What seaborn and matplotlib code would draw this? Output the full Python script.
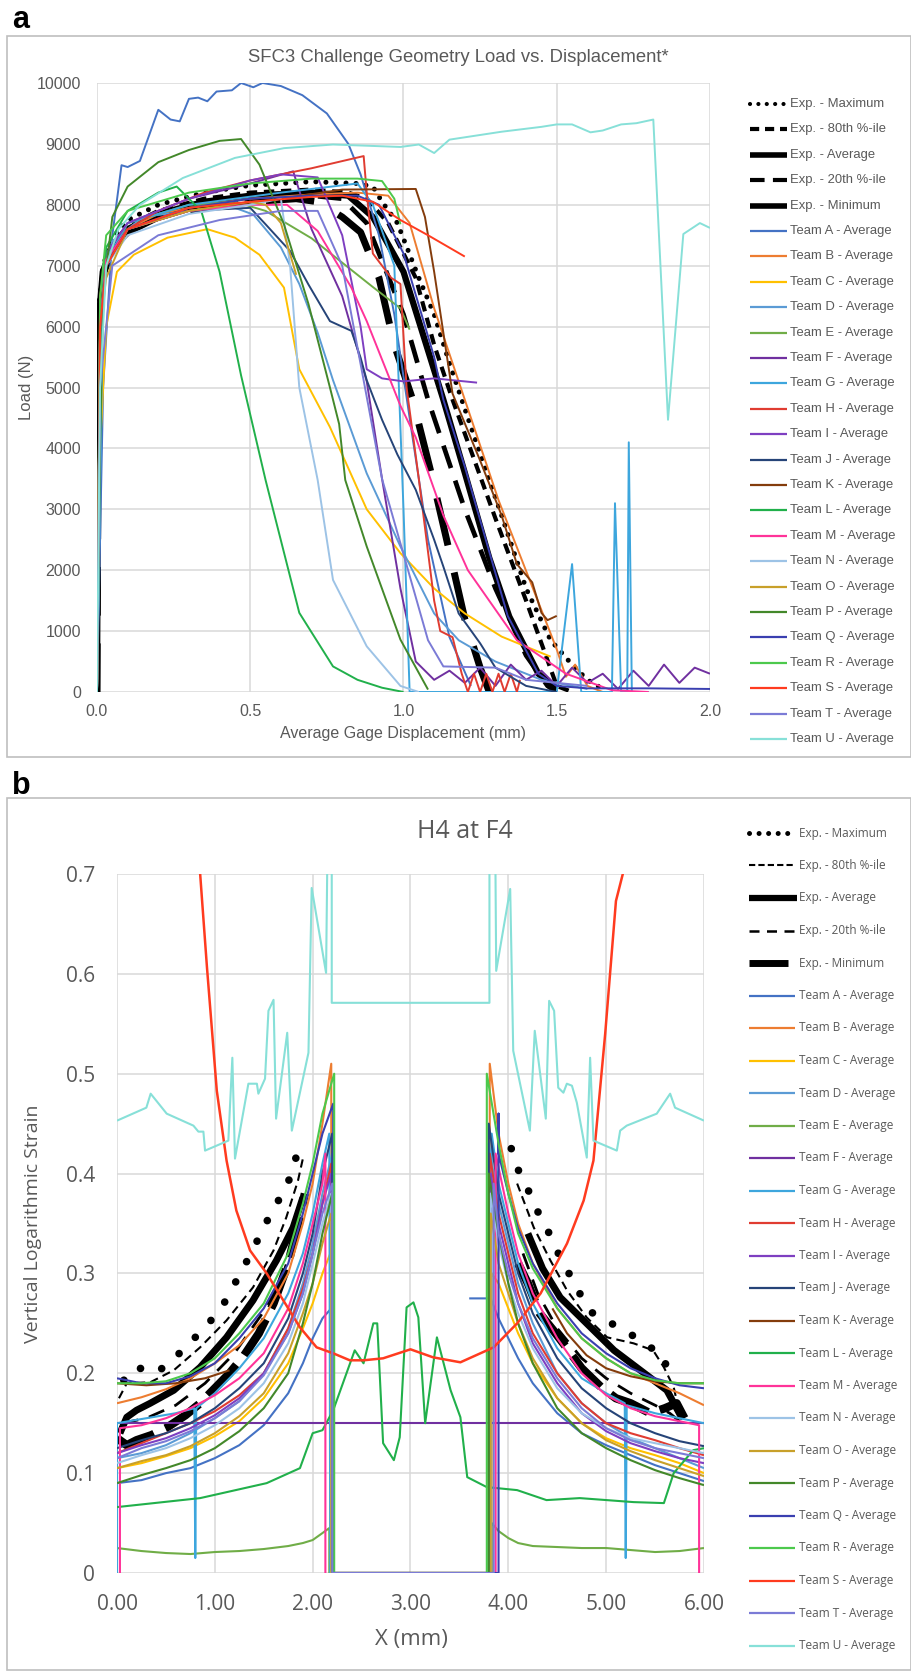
import matplotlib
matplotlib.use("Agg")
import matplotlib.pyplot as plt
from matplotlib.lines import Line2D
from matplotlib.patches import Rectangle
import seaborn as sns

W, H = 912, 1671
sns.set_theme(style="whitegrid")
NARROW = ['Liberation Sans', 'DejaVu Sans']
OPEN = ['Open Sans', 'DejaVu Sans']
plt.rcParams['font.family'] = NARROW
GRAY = '#595959'

# ---------------- labels / colours ----------------
EXP_LABELS = ["Exp. - Maximum", "Exp. - 80th %-ile", "Exp. - Average", "Exp. - 20th %-ile", "Exp. - Minimum"]
TEAMS = list("ABCDEFGHIJKLMNOPQRSTU")
TEAM_LABELS = [f"Team {t} - Average" for t in TEAMS]
TEAM_COLORS = ['#4472C4', '#ED7D31', '#FFC000', '#5B9BD5', '#70AD47', '#7030A0', '#3DA6DD',
               '#E03C31', '#7E3FC1', '#264478', '#843C0C', '#21B04B', '#FF3399', '#9DC3E6',
               '#C8A02A', '#43882A', '#3A3FB0', '#4CC94C', '#FF3B1F', '#7B7BD6', '#87E0D8']

# ---------------- panel a : load vs displacement ----------------
A_XTICKS = [0.0, 0.5, 1.0, 1.5, 2.0]
A_YTICKS = [0, 1000, 2000, 3000, 4000, 5000, 6000, 7000, 8000, 9000, 10000]

aMax_x = [0, 0.005, 0.02, 0.05, 0.1, 0.2, 0.35, 0.5, 0.7, 0.85, 0.9, 0.93, 0.98, 1.05, 1.1, 1.15, 1.21, 1.32, 1.4, 1.48, 1.55, 1.6, 1.65]
aMax_y = [0, 6300, 7000, 7450, 7750, 8000, 8200, 8320, 8380, 8350, 8300, 8050, 7700, 6800, 6200, 5400, 4500, 2900, 1700, 850, 450, 200, 50]
a80_x = [0, 0.005, 0.02, 0.05, 0.1, 0.2, 0.35, 0.5, 0.7, 0.82, 0.88, 0.95, 1.04, 1.1, 1.16, 1.3, 1.4, 1.45, 1.5, 1.55]
a80_y = [0, 6100, 6900, 7350, 7650, 7900, 8100, 8200, 8250, 8200, 8100, 7700, 6800, 5700, 4800, 2850, 1500, 800, 100, 0]
aAvg_x = [0, 0.005, 0.02, 0.05, 0.1, 0.2, 0.35, 0.5, 0.7, 0.82, 0.9, 1.0, 1.13, 1.2, 1.28, 1.345, 1.44, 1.5]
aAvg_y = [0, 6000, 6850, 7300, 7600, 7850, 8050, 8150, 8200, 8150, 7800, 6900, 4800, 3600, 2200, 1240, 300, 50]
a20_x = [0, 0.005, 0.02, 0.05, 0.1, 0.2, 0.35, 0.5, 0.7, 0.8, 0.88, 1.0, 1.08, 1.2, 1.3, 1.4, 1.47, 1.5]
a20_y = [0, 5900, 6800, 7250, 7550, 7800, 8000, 8100, 8150, 8100, 7700, 6200, 4800, 3000, 1700, 600, 100, 0]
aMin_x = [0, 0.005, 0.02, 0.05, 0.1, 0.2, 0.35, 0.5, 0.65, 0.72, 0.8, 0.86, 0.92, 0.97, 1.03, 1.09, 1.15, 1.2, 1.25, 1.28]
aMin_y = [0, 6000, 6900, 7300, 7550, 7800, 7950, 8050, 8100, 8050, 7800, 7550, 6800, 5700, 4800, 3600, 2300, 1200, 400, 0]

aA_x = [0, 0.02, 0.05, 0.08, 0.1, 0.14, 0.2, 0.24, 0.27, 0.3, 0.33, 0.36, 0.39, 0.44, 0.47, 0.51, 0.54, 0.6, 0.67, 0.75, 0.82, 0.86, 0.92, 0.97, 1.02, 1.08, 1.15, 1.22]
aA_y = [0, 5000, 7500, 8650, 8620, 8720, 9560, 9400, 9370, 9740, 9760, 9700, 9860, 9880, 10000, 9930, 10000, 9950, 9800, 9500, 9000, 8500, 7500, 6200, 4500, 2500, 900, 100]
aB_x = [0, 0.01, 0.03, 0.1, 0.2, 0.35, 0.5, 0.7, 0.85, 0.95, 1.02, 1.1, 1.2, 1.31, 1.42, 1.48, 1.5, 1.53, 1.56, 1.6, 1.65]
aB_y = [0, 6500, 7100, 7600, 7850, 8000, 8100, 8170, 8200, 8150, 7700, 6300, 4800, 3150, 1730, 960, 700, 250, 450, 100, 0]
aC_x = [0, 0.01, 0.03, 0.065, 0.12, 0.23, 0.36, 0.45, 0.53, 0.61, 0.66, 0.76, 0.88, 0.99, 1.1, 1.2, 1.32, 1.48]
aC_y = [0, 4000, 6000, 6900, 7180, 7460, 7600, 7460, 7180, 6640, 5300, 4350, 3000, 2280, 1700, 1290, 910, 580]
aD_x = [0, 0.02, 0.05, 0.15, 0.3, 0.45, 0.51, 0.6, 0.66, 0.72, 0.77, 0.88, 0.99, 1.1, 1.18, 1.3, 1.45, 1.6]
aD_y = [0, 6800, 7400, 7800, 7900, 7950, 7840, 7300, 6700, 5900, 5120, 3590, 2390, 1290, 850, 500, 200, 50]
aE_x = [0, 0.01, 0.03, 0.1, 0.3, 0.45, 0.55, 0.7, 0.8, 0.9, 0.99, 1.02]
aE_y = [0, 5500, 7000, 7700, 8000, 8050, 7900, 7450, 7050, 6650, 6300, 5950]
aF_x = [0, 0.01, 0.03, 0.1, 0.3, 0.5, 0.64, 0.7, 0.8, 0.88, 0.93, 0.99, 1.04, 1.1, 1.15, 1.2, 1.25, 1.3, 1.35, 1.4, 1.45, 1.5, 1.55, 1.6, 1.65, 1.7, 1.75, 1.8, 1.85, 1.9, 1.95, 2.0]
aF_y = [0, 6000, 7200, 7700, 8100, 8350, 8550, 7600, 6500, 5100, 3500, 1700, 500, 200, 350, 150, 400, 100, 450, 200, 350, 100, 400, 150, 300, 50, 350, 100, 450, 150, 400, 300]
aG_x = [0, 0.02, 0.1, 0.3, 0.6, 0.85, 0.9, 0.97, 1.0, 1.02, 1.2, 1.5, 1.55, 1.58, 1.68, 1.69, 1.71, 1.73, 1.735, 1.745, 1.8]
aG_y = [0, 7000, 7700, 8000, 8200, 8350, 8000, 7000, 3000, 0, 0, 0, 2100, 0, 0, 3100, 0, 0, 4100, 0, 0]
aH_x = [0, 0.01, 0.03, 0.1, 0.2, 0.35, 0.5, 0.7, 0.87, 0.88, 0.9, 0.96, 0.99, 1.01, 1.05, 1.1, 1.12, 1.16, 1.19, 1.21, 1.23, 1.25, 1.27, 1.29, 1.31, 1.33, 1.35, 1.37, 1.38]
aH_y = [0, 6000, 7000, 7600, 7900, 8200, 8400, 8600, 8800, 8200, 7200, 6800, 6700, 5000, 3500, 1500, 1000, 900, 300, 0, 300, 0, 300, 0, 300, 0, 300, 0, 200]
aI_x = [0, 0.01, 0.03, 0.1, 0.3, 0.5, 0.6, 0.72, 0.8, 0.86, 0.88, 0.93, 1.0, 1.1, 1.24]
aI_y = [0, 6000, 7200, 7700, 8100, 8400, 8500, 8450, 7500, 6000, 5300, 5150, 5100, 5150, 5080]
aJ_x = [0, 0.01, 0.03, 0.1, 0.3, 0.5, 0.55, 0.63, 0.69, 0.76, 0.83, 0.86, 0.88, 0.93, 0.98, 1.04, 1.1, 1.13, 1.18, 1.25, 1.3, 1.4, 1.5]
aJ_y = [0, 6000, 7100, 7600, 7900, 7950, 7680, 7240, 6690, 6090, 5930, 5490, 5120, 4470, 3900, 3320, 2500, 2060, 1290, 800, 400, 100, 0]
aK_x = [0, 0.01, 0.03, 0.1, 0.3, 0.6, 0.8, 1.04, 1.07, 1.1, 1.16, 1.25, 1.32, 1.37, 1.42, 1.45, 1.47, 1.5]
aK_y = [0, 6200, 7000, 7600, 7900, 8100, 8250, 8260, 7800, 6900, 4900, 3800, 2900, 2100, 1800, 1300, 1180, 1250]
aL_x = [0, 0.01, 0.03, 0.1, 0.2, 0.26, 0.34, 0.4, 0.47, 0.55, 0.66, 0.77, 0.85, 0.93, 1.0]
aL_y = [0, 6000, 7300, 7900, 8200, 8300, 7900, 6900, 5200, 3480, 1300, 420, 200, 70, 0]
aM_x = [0, 0.01, 0.03, 0.1, 0.3, 0.5, 0.62, 0.72, 0.83, 0.88, 0.99, 1.04, 1.13, 1.21, 1.37, 1.53, 1.68, 1.8]
aM_y = [0, 6000, 7100, 7600, 7900, 8000, 8000, 7570, 6640, 6090, 4700, 4180, 2900, 2000, 850, 300, 30, 0]
aN_x = [0, 0.01, 0.03, 0.1, 0.3, 0.5, 0.6, 0.63, 0.66, 0.72, 0.77, 0.88, 0.99, 1.05]
aN_y = [0, 6000, 7000, 7500, 7850, 8000, 8100, 7000, 5000, 3480, 1840, 750, 100, 0]
aO_x = [0, 0.01, 0.03, 0.1, 0.3, 0.5, 0.55, 0.6, 0.65]
aO_y = [0, 6000, 6800, 7600, 7900, 8050, 8000, 7700, 6850]
aP_x = [0, 0.01, 0.02, 0.05, 0.1, 0.2, 0.3, 0.4, 0.47, 0.53, 0.61, 0.69, 0.76, 0.79, 0.81, 0.88, 0.99, 1.08]
aP_y = [0, 4000, 6500, 7800, 8300, 8700, 8900, 9050, 9080, 8660, 7680, 6370, 5000, 4400, 3480, 2390, 860, 40]
aQ_x = [0, 0.01, 0.03, 0.1, 0.3, 0.5, 0.7, 0.85, 0.92, 1.0, 1.1, 1.13, 1.2, 1.34, 1.44, 1.5, 1.6, 1.8, 2.0]
aQ_y = [0, 6000, 7000, 7600, 7950, 8100, 8150, 8150, 8000, 7200, 5500, 4800, 3700, 1250, 300, 100, 60, 60, 50]
aR_x = [0, 0.01, 0.03, 0.1, 0.3, 0.5, 0.7, 0.85, 0.93, 0.97, 0.99]
aR_y = [0, 6500, 7500, 7900, 8200, 8350, 8430, 8430, 8390, 8100, 7680]
aS_x = [0, 0.01, 0.03, 0.1, 0.3, 0.5, 0.7, 0.8, 0.9, 0.99, 1.08, 1.2]
aS_y = [0, 6000, 7000, 7600, 7950, 8050, 8130, 8150, 8050, 7750, 7500, 7150]
aT_x = [0, 0.01, 0.05, 0.2, 0.4, 0.6, 0.72, 0.8, 0.93, 1.08, 1.13, 1.3, 1.4, 1.6]
aT_y = [0, 5000, 7000, 7500, 7750, 7900, 7900, 7000, 3500, 850, 420, 400, 200, 100]
aU_x = [0, 0.01, 0.03, 0.07, 0.14, 0.28, 0.45, 0.61, 0.77, 0.99, 1.05, 1.1, 1.15, 1.32, 1.45, 1.5, 1.55, 1.61, 1.65, 1.71, 1.76, 1.815, 1.863, 1.913, 1.967, 2.0]
aU_y = [0, 5000, 7000, 7600, 8000, 8440, 8770, 8930, 8990, 8950, 8990, 8850, 9070, 9200, 9280, 9320, 9320, 9190, 9220, 9320, 9340, 9400, 4470, 7520, 7700, 7620]

# ---------------- panel b : strain along X ----------------
B_XTICKS = [0, 1, 2, 3, 4, 5, 6]
B_YTICKS = [0, 0.1, 0.2, 0.3, 0.4, 0.5, 0.6, 0.7]

bMax_Lx = [0.07, 0.12, 0.25, 0.41, 0.55, 0.67, 0.79, 0.91, 1.02, 1.12, 1.2, 1.28, 1.36, 1.44, 1.51, 1.59, 1.68, 1.75, 1.8, 1.86]
bMax_Ly = [0.193, 0.203, 0.205, 0.201, 0.212, 0.223, 0.235, 0.247, 0.26, 0.274, 0.289, 0.304, 0.318, 0.334, 0.348, 0.363, 0.378, 0.391, 0.408, 0.424]
bMax_Rx = [4.03, 4.07, 4.15, 4.22, 4.29, 4.37, 4.45, 4.52, 4.6, 4.67, 4.76, 4.85, 5.01, 5.16, 5.31, 5.45, 5.59, 5.62, 5.69]
bMax_Ry = [0.425, 0.41, 0.394, 0.38, 0.364, 0.349, 0.334, 0.318, 0.304, 0.29, 0.275, 0.261, 0.253, 0.243, 0.236, 0.226, 0.218, 0.203, 0.19]
b80_Lx = [0.02, 0.1, 0.34, 0.58, 0.85, 1.12, 1.39, 1.6, 1.73, 1.85, 1.9]
b80_Ly = [0.175, 0.19, 0.191, 0.203, 0.226, 0.253, 0.286, 0.323, 0.356, 0.393, 0.415]
b80_Rx = [4.09, 4.26, 4.43, 4.6, 4.8, 5.01, 5.28, 5.48, 5.59, 5.69, 5.76]
b80_Ry = [0.39, 0.346, 0.313, 0.283, 0.256, 0.236, 0.23, 0.223, 0.206, 0.186, 0.156]
bAvg_Lx = [0.03, 0.1, 0.2, 0.34, 0.58, 0.85, 1.12, 1.39, 1.63, 1.8, 1.9]
bAvg_Ly = [0.14, 0.156, 0.163, 0.17, 0.183, 0.206, 0.236, 0.273, 0.313, 0.346, 0.376]
bAvg_Rx = [4.2, 4.35, 4.53, 4.8, 5.08, 5.35, 5.62, 5.72, 5.77]
bAvg_Ry = [0.34, 0.305, 0.276, 0.25, 0.223, 0.203, 0.183, 0.165, 0.156]
b20_Lx = [0.05, 0.3, 0.6, 0.9, 1.2, 1.5, 1.7, 1.85]
b20_Ly = [0.15, 0.155, 0.168, 0.19, 0.22, 0.262, 0.3, 0.345]
b20_Rx = [4.15, 4.3, 4.5, 4.75, 5.0, 5.25, 5.5, 5.65, 5.75]
b20_Ry = [0.32, 0.28, 0.245, 0.215, 0.195, 0.18, 0.168, 0.16, 0.152]
bMin_Lx = [0.0, 0.1, 0.2, 0.35, 0.5, 0.7, 0.85, 1.0, 1.15, 1.3, 1.45, 1.6, 1.75, 1.85, 1.92]
bMin_Ly = [0.135, 0.128, 0.133, 0.138, 0.145, 0.158, 0.17, 0.185, 0.2, 0.218, 0.24, 0.27, 0.31, 0.35, 0.38]
bMin_Rx = [4.1, 4.2, 4.32, 4.46, 4.6, 4.75, 4.95, 5.1, 5.25, 5.45, 5.6, 5.72, 5.8]
bMin_Ry = [0.31, 0.29, 0.26, 0.243, 0.225, 0.205, 0.186, 0.175, 0.17, 0.16, 0.165, 0.17, 0.155]

# common sampling positions for the regular team profiles (left and right of the notch)
XL = [0.0, 0.25, 0.5, 0.75, 1.0, 1.25, 1.5, 1.75, 1.9, 2.0, 2.1]
XR = [3.9, 4.0, 4.1, 4.25, 4.5, 4.75, 5.0, 5.25, 5.5, 5.75, 6.0]
# left: 11 values on XL + peak at the drop position; right: value at the rise position + 11 values on XR
bA_L = [0.09, 0.093, 0.1, 0.105, 0.115, 0.128, 0.148, 0.18, 0.21, 0.235, 0.255, 0.265]
bA_R = [0.255, 0.235, 0.215, 0.19, 0.16, 0.14, 0.128, 0.118, 0.108, 0.1, 0.092]
bA_flat_x = [3.6, 3.82]
bA_flat_y = [0.275, 0.275]
bB_L = [0.17, 0.176, 0.184, 0.195, 0.21, 0.228, 0.255, 0.3, 0.35, 0.39, 0.45, 0.51]
bB_R = [0.51, 0.44, 0.39, 0.35, 0.31, 0.265, 0.235, 0.215, 0.2, 0.19, 0.18, 0.168]
bC_L = [0.105, 0.11, 0.117, 0.125, 0.137, 0.152, 0.175, 0.21, 0.245, 0.27, 0.3, 0.32]
bC_R = [0.3, 0.29, 0.265, 0.24, 0.21, 0.175, 0.15, 0.135, 0.125, 0.118, 0.11, 0.1]
bD_L = [0.115, 0.12, 0.128, 0.14, 0.155, 0.172, 0.2, 0.245, 0.29, 0.33, 0.38, 0.42]
bD_R = [0.43, 0.37, 0.33, 0.29, 0.25, 0.2, 0.17, 0.15, 0.135, 0.125, 0.115, 0.105]
bE_L = [0.025, 0.022, 0.02, 0.019, 0.021, 0.022, 0.024, 0.027, 0.03, 0.033, 0.04, 0.045]
bE_R = [0.05, 0.042, 0.035, 0.03, 0.027, 0.026, 0.025, 0.025, 0.023, 0.021, 0.022, 0.025]
bH_L = [0.12, 0.13, 0.14, 0.15, 0.162, 0.178, 0.2, 0.245, 0.285, 0.32, 0.37, 0.41]
bH_R = [0.42, 0.36, 0.32, 0.28, 0.24, 0.2, 0.17, 0.15, 0.14, 0.133, 0.125, 0.118]
bI_L = [0.12, 0.128, 0.135, 0.145, 0.158, 0.175, 0.2, 0.24, 0.28, 0.32, 0.37, 0.40]
bI_R = [0.4, 0.35, 0.31, 0.27, 0.23, 0.19, 0.16, 0.142, 0.13, 0.122, 0.115, 0.11]
bJ_L = [0.125, 0.133, 0.14, 0.15, 0.165, 0.185, 0.21, 0.255, 0.3, 0.34, 0.4, 0.44]
bJ_R = [0.45, 0.38, 0.34, 0.3, 0.26, 0.215, 0.185, 0.165, 0.15, 0.14, 0.132, 0.127]
bN_L = [0.11, 0.118, 0.125, 0.135, 0.148, 0.165, 0.19, 0.23, 0.27, 0.31, 0.35, 0.38]
bN_R = [0.38, 0.33, 0.29, 0.26, 0.225, 0.185, 0.16, 0.145, 0.135, 0.13, 0.125, 0.12]
bO_L = [0.105, 0.112, 0.118, 0.127, 0.14, 0.157, 0.18, 0.22, 0.26, 0.29, 0.33, 0.36]
bO_R = [0.36, 0.31, 0.28, 0.25, 0.215, 0.175, 0.15, 0.133, 0.122, 0.113, 0.105, 0.097]
bP_L = [0.09, 0.098, 0.105, 0.113, 0.125, 0.142, 0.165, 0.2, 0.25, 0.29, 0.34, 0.38]
bP_R = [0.4, 0.34, 0.29, 0.25, 0.21, 0.165, 0.14, 0.125, 0.113, 0.103, 0.095, 0.088]
bQ_L = [0.195, 0.19, 0.19, 0.197, 0.21, 0.235, 0.265, 0.31, 0.36, 0.4, 0.44, 0.47]
bQ_R = [0.46, 0.42, 0.38, 0.345, 0.31, 0.27, 0.24, 0.22, 0.205, 0.195, 0.188, 0.185]
bR_L = [0.19, 0.19, 0.192, 0.2, 0.215, 0.24, 0.27, 0.32, 0.37, 0.41, 0.46, 0.50]
bR_R = [0.5, 0.43, 0.38, 0.34, 0.305, 0.265, 0.235, 0.215, 0.2, 0.193, 0.19, 0.19]
bT_L = [0.115, 0.125, 0.132, 0.142, 0.155, 0.172, 0.198, 0.24, 0.28, 0.32, 0.36, 0.39]
bT_R = [0.39, 0.34, 0.3, 0.27, 0.235, 0.195, 0.165, 0.145, 0.133, 0.125, 0.12, 0.115]
REG_TEAMS = ['A', 'B', 'C', 'D', 'E', 'H', 'I', 'J', 'N', 'O', 'P', 'Q', 'R', 'T']
REG_DROP_X = [2.19, 2.19, 2.18, 2.2, 2.17, 2.19, 2.19, 2.2, 2.19, 2.19, 2.2, 2.21, 2.22, 2.2]
REG_RISE_X = [3.82, 3.81, 3.83, 3.8, 3.83, 3.81, 3.82, 3.8, 3.82, 3.82, 3.8, 3.9, 3.78, 3.85]

bF_x = [0.0, 6.0]
bF_y = [0.15, 0.15]
bG_Lx = [0.0, 0.0, 0.3, 0.6, 0.79, 0.8, 0.81, 1.0, 1.25, 1.5, 1.75, 1.9, 2.0, 2.1, 2.17, 2.18]
bG_Ly = [0.0, 0.15, 0.155, 0.16, 0.165, 0.015, 0.165, 0.18, 0.205, 0.235, 0.28, 0.32, 0.36, 0.41, 0.44, 0.0]
bG_Rx = [3.82, 3.83, 3.9, 4.0, 4.1, 4.25, 4.5, 4.75, 5.0, 5.19, 5.2, 5.21, 5.5, 5.75, 6.0]
bG_Ry = [0.0, 0.44, 0.39, 0.35, 0.31, 0.27, 0.225, 0.195, 0.18, 0.17, 0.015, 0.168, 0.16, 0.155, 0.15]
bK_Lx = [0.0, 0.3, 0.6, 0.9, 1.15]
bK_Ly = [0.19, 0.188, 0.19, 0.195, 0.203]
bK_Rx = [4.45, 4.6, 4.8, 5.0, 5.25, 5.5, 5.75, 6.0]
bK_Ry = [0.265, 0.24, 0.218, 0.205, 0.197, 0.192, 0.19, 0.19]
bL_x = [0.0, 0.85, 1.53, 1.87, 2.0, 2.1, 2.21, 2.43, 2.52, 2.62, 2.66, 2.72, 2.83, 2.89, 2.96, 3.03, 3.08, 3.15, 3.27, 3.41, 3.51, 3.58, 3.78, 4.09, 4.39, 4.73, 5.28, 5.59, 5.69, 5.89, 6.0]
bL_y = [0.066, 0.075, 0.09, 0.105, 0.14, 0.143, 0.163, 0.223, 0.21, 0.25, 0.25, 0.13, 0.113, 0.136, 0.266, 0.271, 0.256, 0.15, 0.236, 0.183, 0.156, 0.096, 0.086, 0.083, 0.073, 0.075, 0.071, 0.07, 0.1, 0.123, 0.125]
bM_Lx = [0.03, 0.03, 0.25, 0.5, 0.75, 1.0, 1.25, 1.5, 1.75, 1.9, 2.0, 2.1, 2.13, 2.13]
bM_Ly = [0.0, 0.145, 0.148, 0.155, 0.165, 0.178, 0.195, 0.22, 0.265, 0.31, 0.35, 0.39, 0.42, 0.0]
bM_Rx = [3.87, 3.87, 4.0, 4.1, 4.25, 4.5, 4.75, 5.0, 5.25, 5.5, 5.75, 5.95, 5.95]
bM_Ry = [0.0, 0.42, 0.36, 0.32, 0.28, 0.235, 0.2, 0.178, 0.165, 0.157, 0.152, 0.148, 0.0]
bS_x = [0.84, 0.85, 0.87, 0.92, 1.02, 1.12, 1.22, 1.36, 1.53, 1.7, 1.87, 2.04, 2.21, 2.38, 2.52, 2.72, 3.0, 3.23, 3.51, 3.85, 4.09, 4.33, 4.6, 4.77, 4.87, 4.99, 5.1, 5.17, 5.18]
bS_y = [0.75, 0.7, 0.673, 0.606, 0.483, 0.413, 0.363, 0.323, 0.3, 0.273, 0.246, 0.226, 0.22, 0.213, 0.213, 0.215, 0.224, 0.216, 0.211, 0.226, 0.25, 0.28, 0.33, 0.373, 0.413, 0.54, 0.673, 0.7, 0.75]
bU_x = [0.0, 0.3, 0.344, 0.508, 0.781, 0.832, 0.883, 0.9, 1.138, 1.179, 1.206, 1.343, 1.43, 1.445, 1.513, 1.548, 1.6, 1.626, 1.74, 1.787, 1.957, 1.99, 2.137, 2.154, 2.195, 2.195, 3.807, 3.807, 3.865, 3.876, 4.019, 4.05, 4.22, 4.27, 4.383, 4.417, 4.468, 4.51, 4.563, 4.598, 4.65, 4.7, 4.802, 4.836, 4.87, 5.109, 5.143, 5.21, 5.517, 5.654, 5.704, 6.0]
bU_y = [0.453, 0.466, 0.48, 0.46, 0.448, 0.442, 0.442, 0.423, 0.433, 0.516, 0.415, 0.49, 0.49, 0.48, 0.495, 0.563, 0.574, 0.455, 0.541, 0.443, 0.521, 0.686, 0.601, 0.75, 0.75, 0.571, 0.571, 0.75, 0.75, 0.603, 0.685, 0.523, 0.443, 0.543, 0.455, 0.573, 0.563, 0.486, 0.481, 0.49, 0.488, 0.471, 0.416, 0.516, 0.433, 0.423, 0.443, 0.448, 0.46, 0.48, 0.466, 0.453]

# ---------------- helpers ----------------
def fx(px):
    return px / W


def fy(py):
    return 1 - py / H


def draw(ax, xs, ys, color, lw, ls='-', cap='butt', z=2):
    sns.lineplot(x=list(xs), y=list(ys), ax=ax, color=color, linewidth=lw, linestyle=ls, sort=False,
                 estimator=None, legend=False, dash_capstyle=cap, solid_capstyle='butt',
                 solid_joinstyle='round', zorder=z)


def style_axes(ax, xlim, ylim, xticks, yticks, xfmt, yfmt, size, family, xpad, ypad):
    ax.set_facecolor('white')
    for s in ax.spines.values():
        s.set_visible(False)
    ax.set_xlim(*xlim)
    ax.set_ylim(*ylim)
    ax.set_xticks(xticks)
    ax.set_yticks(yticks)
    ax.set_xticklabels([xfmt(v) for v in xticks])
    ax.set_yticklabels([yfmt(v) for v in yticks])
    ax.grid(True, color='#D9D9D9', linewidth=1.1)
    ax.set_axisbelow(True)
    ax.tick_params(axis='both', length=0, colors=GRAY, labelsize=size)
    ax.tick_params(axis='x', pad=xpad)
    ax.tick_params(axis='y', pad=ypad)
    for lbl in ax.get_xticklabels() + ax.get_yticklabels():
        lbl.set_fontfamily(family)
    ax.set_xlabel('')
    ax.set_ylabel('')


fig = plt.figure(figsize=(W / 100, H / 100), dpi=100)
fig.patch.set_facecolor('white')

# frames
fig.add_artist(Rectangle((fx(7), fy(757)), fx(904), 721 / H, transform=fig.transFigure,
                         fill=False, edgecolor='#BFBFBF', linewidth=1.2))
fig.add_artist(Rectangle((fx(7), fy(1670)), fx(904), 872 / H, transform=fig.transFigure,
                         fill=False, edgecolor='#BFBFBF', linewidth=1.2))
fig.text(fx(12), fy(28), 'a', fontsize=22, fontweight='bold', color='black', va='baseline', family=NARROW)
fig.text(fx(12), fy(794), 'b', fontsize=22, fontweight='bold', color='black', va='baseline', family=NARROW)

# ================= panel a =================
axA = fig.add_axes([fx(97), fy(692), (710 - 97) / W, (692 - 83) / H])
A_EXP = [(aMax_x, aMax_y, 3.6, (0, (0.01, 2.0)), 'round'),
         (a80_x, a80_y, 3.0, (0, (2.5, 1.6)), 'butt'),
         (aAvg_x, aAvg_y, 4.5, '-', 'butt'),
         (a20_x, a20_y, 3.4, (0, (5, 2.8)), 'butt'),
         (aMin_x, aMin_y, 5.0, (0, (7, 4)), 'butt')]
for xs, ys, lw, ls, cap in A_EXP:
    draw(axA, xs, ys, 'black', lw, ls, cap, z=2)
A_TEAM_DATA = [(aA_x, aA_y), (aB_x, aB_y), (aC_x, aC_y), (aD_x, aD_y), (aE_x, aE_y), (aF_x, aF_y),
               (aG_x, aG_y), (aH_x, aH_y), (aI_x, aI_y), (aJ_x, aJ_y), (aK_x, aK_y), (aL_x, aL_y),
               (aM_x, aM_y), (aN_x, aN_y), (aO_x, aO_y), (aP_x, aP_y), (aQ_x, aQ_y), (aR_x, aR_y),
               (aS_x, aS_y), (aT_x, aT_y), (aU_x, aU_y)]
for (xs, ys), c in zip(A_TEAM_DATA, TEAM_COLORS):
    draw(axA, xs, ys, c, 1.4, z=3)
style_axes(axA, (0, 2.0), (0, 10000), A_XTICKS, A_YTICKS, lambda v: f"{v:.1f}", lambda v: f"{v:d}",
           11.5, NARROW, 8.5, 11.5)
fig.text(fx(458), fy(57), 'SFC3 Challenge Geometry Load vs. Displacement*', ha='center', va='center',
         fontsize=13.3, color=GRAY, family=NARROW)
fig.text(fx(27), fy(387), 'Load (N)', rotation=90, ha='center', va='center', fontsize=12,
         color=GRAY, family=NARROW)
fig.text(fx(403), fy(733), 'Average Gage Displacement (mm)', ha='center', va='center', fontsize=11.5,
         color=GRAY, family=NARROW)

# legend a
A_LEG_EXP = [(3.0, (0, (0.01, 2.0)), 'round'), (3.0, (0, (2.2, 1.4)), 'butt'), (4.0, '-', 'butt'),
             (3.0, (0, (3.5, 2.0)), 'butt'), (4.0, '-', 'butt')]
for i, lab in enumerate(EXP_LABELS + TEAM_LABELS):
    y = fy(104 + 25.4 * i)
    if i < 5:
        lw, ls, cap = A_LEG_EXP[i]
        col = 'black'
    else:
        lw, ls, cap = 1.6, '-', 'butt'
        col = TEAM_COLORS[i - 5]
    fig.add_artist(Line2D([fx(750), fx(787)], [y, y], transform=fig.transFigure, color=col, lw=lw,
                          linestyle=ls, dash_capstyle=cap, solid_capstyle='butt'))
    fig.text(fx(790), y, lab, ha='left', va='center', fontsize=9.4, color=GRAY, family=NARROW)

# ================= panel b =================
axB = fig.add_axes([fx(117), fy(1573), (704 - 117) / W, (1573 - 874) / H])
B_EXP = [((bMax_Lx, bMax_Ly), (bMax_Rx, bMax_Ry), 5.5, (0, (0.01, 3.0)), 'round'),
         ((b80_Lx, b80_Ly), (b80_Rx, b80_Ry), 1.5, (0, (4, 2.5)), 'butt'),
         ((bAvg_Lx, bAvg_Ly), (bAvg_Rx, bAvg_Ry), 5.0, '-', 'butt'),
         ((b20_Lx, b20_Ly), (b20_Rx, b20_Ry), 2.0, (0, (6, 4)), 'butt'),
         ((bMin_Lx, bMin_Ly), (bMin_Rx, bMin_Ry), 6.0, (0, (5, 1.5)), 'butt')]
for left, right, lw, ls, cap in B_EXP:
    draw(axB, left[0], left[1], 'black', lw, ls, cap, z=2)
    draw(axB, right[0], right[1], 'black', lw, ls, cap, z=2)

REG_LEFT = {'A': bA_L, 'B': bB_L, 'C': bC_L, 'D': bD_L, 'E': bE_L, 'H': bH_L, 'I': bI_L, 'J': bJ_L,
            'N': bN_L, 'O': bO_L, 'P': bP_L, 'Q': bQ_L, 'R': bR_L, 'T': bT_L}
REG_RIGHT = {'A': bA_R, 'B': bB_R, 'C': bC_R, 'D': bD_R, 'E': bE_R, 'H': bH_R, 'I': bI_R, 'J': bJ_R,
             'N': bN_R, 'O': bO_R, 'P': bP_R, 'Q': bQ_R, 'R': bR_R, 'T': bT_R}
color_of = dict(zip(TEAMS, TEAM_COLORS))
LWB = 1.5
for t in TEAMS:
    c = color_of[t]
    if t in REG_LEFT:
        k = REG_TEAMS.index(t)
        d, r = REG_DROP_X[k], REG_RISE_X[k]
        yl, yr = REG_LEFT[t], REG_RIGHT[t]
        left_x = XL + [d, d]
        left_y = yl + [0.0]
        if t == 'A':
            draw(axB, left_x, left_y, c, LWB, z=3)
            draw(axB, bA_flat_x + XR, bA_flat_y + yr, c, LWB, z=3)
        else:
            xs = left_x + [r, r] + XR
            ys = left_y + [0.0] + yr
            draw(axB, xs, ys, c, LWB, z=3)
    elif t == 'F':
        draw(axB, bF_x, bF_y, c, LWB, z=3)
    elif t == 'G':
        draw(axB, bG_Lx, bG_Ly, c, LWB, z=3)
        draw(axB, bG_Rx, bG_Ry, c, LWB, z=3)
    elif t == 'K':
        draw(axB, bK_Lx, bK_Ly, c, LWB, z=3)
        draw(axB, bK_Rx, bK_Ry, c, LWB, z=3)
    elif t == 'L':
        draw(axB, bL_x, bL_y, c, LWB, z=3)
    elif t == 'M':
        draw(axB, bM_Lx, bM_Ly, c, LWB, z=3)
        draw(axB, bM_Rx, bM_Ry, c, LWB, z=3)
    elif t == 'S':
        draw(axB, bS_x, bS_y, c, LWB + 0.3, z=3)
    elif t == 'U':
        draw(axB, bU_x, bU_y, c, LWB, z=3)

style_axes(axB, (0, 6), (0, 0.7), B_XTICKS, B_YTICKS, lambda v: f"{v:.2f}",
           lambda v: '0' if v == 0 else f"{v:.1f}", 15, OPEN, 15, 16)
fig.text(fx(465), fy(832), 'H4 at F4', ha='center', va='center', fontsize=18, color=GRAY, family=OPEN)
fig.text(fx(33), fy(1224), 'Vertical Logarithmic Strain', rotation=90, ha='center', va='center',
         fontsize=14, color=GRAY, family=OPEN)
fig.text(fx(411), fy(1640), 'X (mm)', ha='center', va='center', fontsize=16, color=GRAY, family=OPEN)

B_LEG_EXP = [(3.6, (0, (0.01, 1.9)), 'round', 795), (1.5, (0, (3, 1.5)), 'butt', 795),
             (4.5, '-', 'butt', 797), (1.8, (0, (4, 3)), 'butt', 795), (5.0, '-', 'butt', 788)]
for i, lab in enumerate(EXP_LABELS + TEAM_LABELS):
    y = fy(833 + 32.5 * i)
    if i < 5:
        lw, ls, cap, x1 = B_LEG_EXP[i]
        col = 'black'
    else:
        lw, ls, cap, x1 = 1.6, '-', 'butt', 795
        col = TEAM_COLORS[i - 5]
    fig.add_artist(Line2D([fx(749), fx(x1)], [y, y], transform=fig.transFigure, color=col, lw=lw,
                          linestyle=ls, dash_capstyle=cap, solid_capstyle='butt'))
    fig.text(fx(799), y, lab, ha='left', va='center', fontsize=8.5, color=GRAY, family=OPEN)

fig.savefig('out.png', dpi=100, facecolor='white')
